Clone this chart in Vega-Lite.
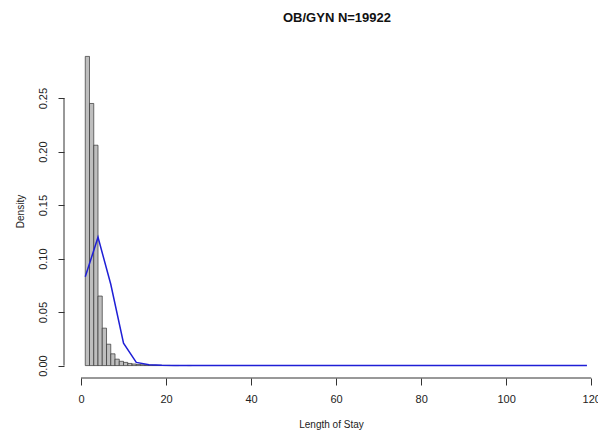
{
  "$schema": "https://vega.github.io/schema/vega-lite/v6.json",
  "autosize": {"type": "none"},
  "padding": {"left": 64, "top": 44, "right": 0, "bottom": 52},
  "width": 534,
  "height": 334,
  "background": "white",
  "title": {"text": "OB/GYN N=19922", "fontSize": 13, "fontWeight": "bold", "font": "Liberation Sans", "color": "#111", "anchor": "middle", "frame": "group", "baseline": "alphabetic", "offset": 9, "dx": 6},
  "config": {
    "view": {"stroke": null},
    "axis": {"grid": false, "domain": false, "labelFont": "Liberation Sans", "titleFont": "Liberation Sans", "labelColor": "#222", "titleColor": "#222", "tickColor": "#333", "labelFontSize": 11, "titleFontSize": 10, "titleFontWeight": "normal"}
  },
  "datasets": {
    "hist": [
      {"start": 1, "end": 2, "density": 0.289},
      {"start": 2, "end": 3, "density": 0.245},
      {"start": 3, "end": 4, "density": 0.206},
      {"start": 4, "end": 5, "density": 0.065},
      {"start": 5, "end": 6, "density": 0.035},
      {"start": 6, "end": 7, "density": 0.020},
      {"start": 7, "end": 8, "density": 0.011},
      {"start": 8, "end": 9, "density": 0.006},
      {"start": 9, "end": 10, "density": 0.004},
      {"start": 10, "end": 11, "density": 0.003},
      {"start": 11, "end": 12, "density": 0.002},
      {"start": 12, "end": 13, "density": 0.0015},
      {"start": 13, "end": 14, "density": 0.001},
      {"start": 14, "end": 15, "density": 0.0008},
      {"start": 15, "end": 16, "density": 0.0006},
      {"start": 16, "end": 17, "density": 0.0005},
      {"start": 17, "end": 18, "density": 0.0004},
      {"start": 18, "end": 19, "density": 0.0003},
      {"start": 19, "end": 20, "density": 0.0002},
      {"start": 20, "end": 21, "density": 0.0002},
      {"start": 21, "end": 22, "density": 0.0001},
      {"start": 22, "end": 23, "density": 0.0001},
      {"start": 25, "end": 26, "density": 0.0001}
    ],
    "curve": [
      {"los": 1, "density": 0.083},
      {"los": 4, "density": 0.120},
      {"los": 7, "density": 0.076},
      {"los": 10, "density": 0.021},
      {"los": 13, "density": 0.003},
      {"los": 16, "density": 0.0008},
      {"los": 19, "density": 0.0003},
      {"los": 22, "density": 0.0001},
      {"los": 25, "density": 0.00005},
      {"los": 119, "density": 0}
    ],
    "xaxis": [{"from": 0, "to": 120, "y": -0.0116}],
    "yaxis": [{"x": -4, "from": 0, "to": 0.25}]
  },
  "layer": [
    {
      "data": {"name": "hist"},
      "mark": {"type": "rect", "fill": "#bebebe", "stroke": "#333", "strokeWidth": 0.7},
      "encoding": {
        "x": {"field": "start", "type": "quantitative", "scale": {"domain": [-4, 121.6], "nice": false, "zero": false},
          "axis": {"values": [0, 20, 40, 60, 80, 100, 120], "tickSize": 7, "labelPadding": 8, "title": "Length of Stay", "titlePadding": 15, "labelFlush": false}},
        "x2": {"field": "end"},
        "y": {"field": "density", "type": "quantitative", "scale": {"domain": [-0.0116, 0.3006], "nice": false, "zero": false},
          "axis": {"values": [0, 0.05, 0.1, 0.15, 0.2, 0.25], "format": ".2f", "tickSize": 6, "labelAngle": -90, "labelAlign": "center", "labelBaseline": "bottom", "labelPadding": 10, "title": "Density", "titlePadding": 12, "labelFlush": false}},
        "y2": {"datum": 0}
      }
    },
    {
      "data": {"name": "curve"},
      "mark": {"type": "line", "color": "#1f1fd6", "strokeWidth": 1.5},
      "encoding": {
        "x": {"field": "los", "type": "quantitative"},
        "y": {"field": "density", "type": "quantitative"}
      }
    },
    {
      "data": {"name": "xaxis"},
      "mark": {"type": "rule", "color": "#333", "strokeWidth": 1},
      "encoding": {
        "x": {"field": "from", "type": "quantitative"},
        "x2": {"field": "to"},
        "y": {"field": "y", "type": "quantitative"}
      }
    },
    {
      "data": {"name": "yaxis"},
      "mark": {"type": "rule", "color": "#333", "strokeWidth": 1},
      "encoding": {
        "x": {"field": "x", "type": "quantitative"},
        "y": {"field": "from", "type": "quantitative"},
        "y2": {"field": "to"}
      }
    }
  ]
}
